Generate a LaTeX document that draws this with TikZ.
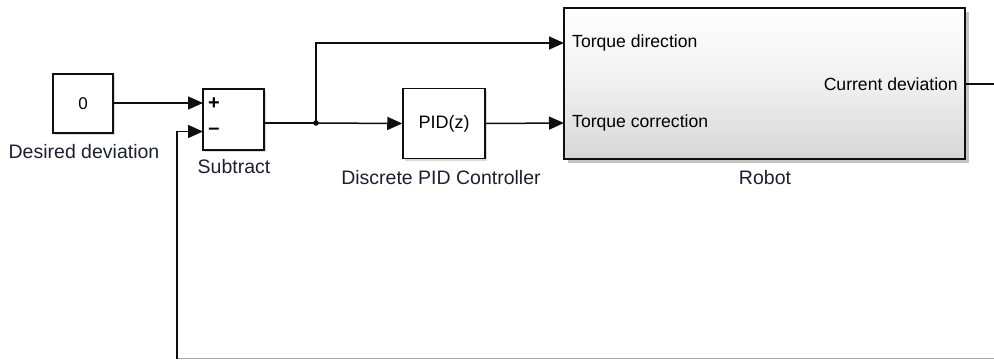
\documentclass[tikz,border=0pt]{standalone}
\usepackage{fontspec}
\setmainfont{Liberation Sans}
\usetikzlibrary{arrows.meta,shadows,calc}
\definecolor{lbl}{RGB}{30,30,50}
\definecolor{bline}{RGB}{15,15,15}
\tikzset{
  blk/.style={draw=bline, line width=1.5pt, fill=white, inner sep=0pt,
     drop shadow={shadow xshift=2pt, shadow yshift=-2pt, fill=black!25, opacity=0.6}},
  blkname/.style={font=\fontsize{19.5}{21}\selectfont, text=lbl, inner sep=0pt},
  portlbl/.style={font=\fontsize{17.6}{19}\selectfont, text=black, inner sep=0pt},
  sig/.style={line width=1.5pt, draw=bline},
  arr/.style={sig, -{Triangle[length=15pt,width=13pt]}}
}
\begin{document}
\begin{tikzpicture}[x=1pt,y=-1pt]
\useasboundingbox (0,0) rectangle (994,360);
% blocks
\node[blk, minimum width=60pt, minimum height=59pt, font=\fontsize{17}{19}\selectfont] (const) at (83,103.5) {0};
\node[blkname, anchor=center] (constlbl) at (84,152) {Desired deviation};

\node[blk, minimum width=61pt, minimum height=61pt] (sub) at (233.5,119.5) {};
\node[portlbl, font=\fontsize{20}{21}\selectfont\bfseries] (plus) at (214,104) {+};
\node[portlbl, font=\fontsize{20}{21}\selectfont\bfseries] (minus) at (214,131) {\textendash};
\node[blkname] (sublbl) at (234,167) {Subtract};

\node[blk, minimum width=82pt, minimum height=70pt, font=\fontsize{18}{20}\selectfont] (pid) at (444,123.5) {PID(z)};
\node[blkname] (pidlbl) at (441,178) {Discrete PID Controller};

\node[draw=bline, line width=1.7pt, inner sep=0pt, minimum width=401pt, minimum height=151pt,
      top color=white, bottom color=black!16, middle color=black!6,
      drop shadow={shadow xshift=4pt, shadow yshift=-4pt, fill=black!45, opacity=0.5}] (robot) at (764.5,83.5) {};
\node[portlbl, anchor=west] (tdir) at (572,43) {Torque direction};
\node[portlbl, anchor=west] (tcor) at (572,123) {Torque correction};
\node[portlbl, anchor=east] (cdev) at (958,84) {Current deviation};
\node[blkname] (robotlbl) at (765,178) {Robot};

% coordinates
\coordinate (subin1) at (203,103);
\coordinate (subin2) at (203,131.5);
\coordinate (subout) at (264,123);
\coordinate (junc) at (316,123);
\coordinate (rin1) at (564,43);
\coordinate (rin2) at (564,123);
\coordinate (rout) at (965,84);
\coordinate (edge) at (994,84);
\coordinate (fbr) at (994,358.5);
\coordinate (fbl) at (177,358.5);

% connectors
\draw[arr] (const.east |- subin1) -- (subin1);
\draw[sig] (subout) -- (junc);
\draw[arr] (junc) -- (pid.west);
\draw[arr] (junc) |- (rin1);
\fill[bline] (junc) circle (2.8pt);
\draw[arr] (pid.east) -- (rin2);
\draw[sig] (rout) -- (edge);
\draw[sig, draw=black!35] (fbr) -- (fbl);
\draw[arr] (fbl) |- (subin2);
\end{tikzpicture}
\end{document}
